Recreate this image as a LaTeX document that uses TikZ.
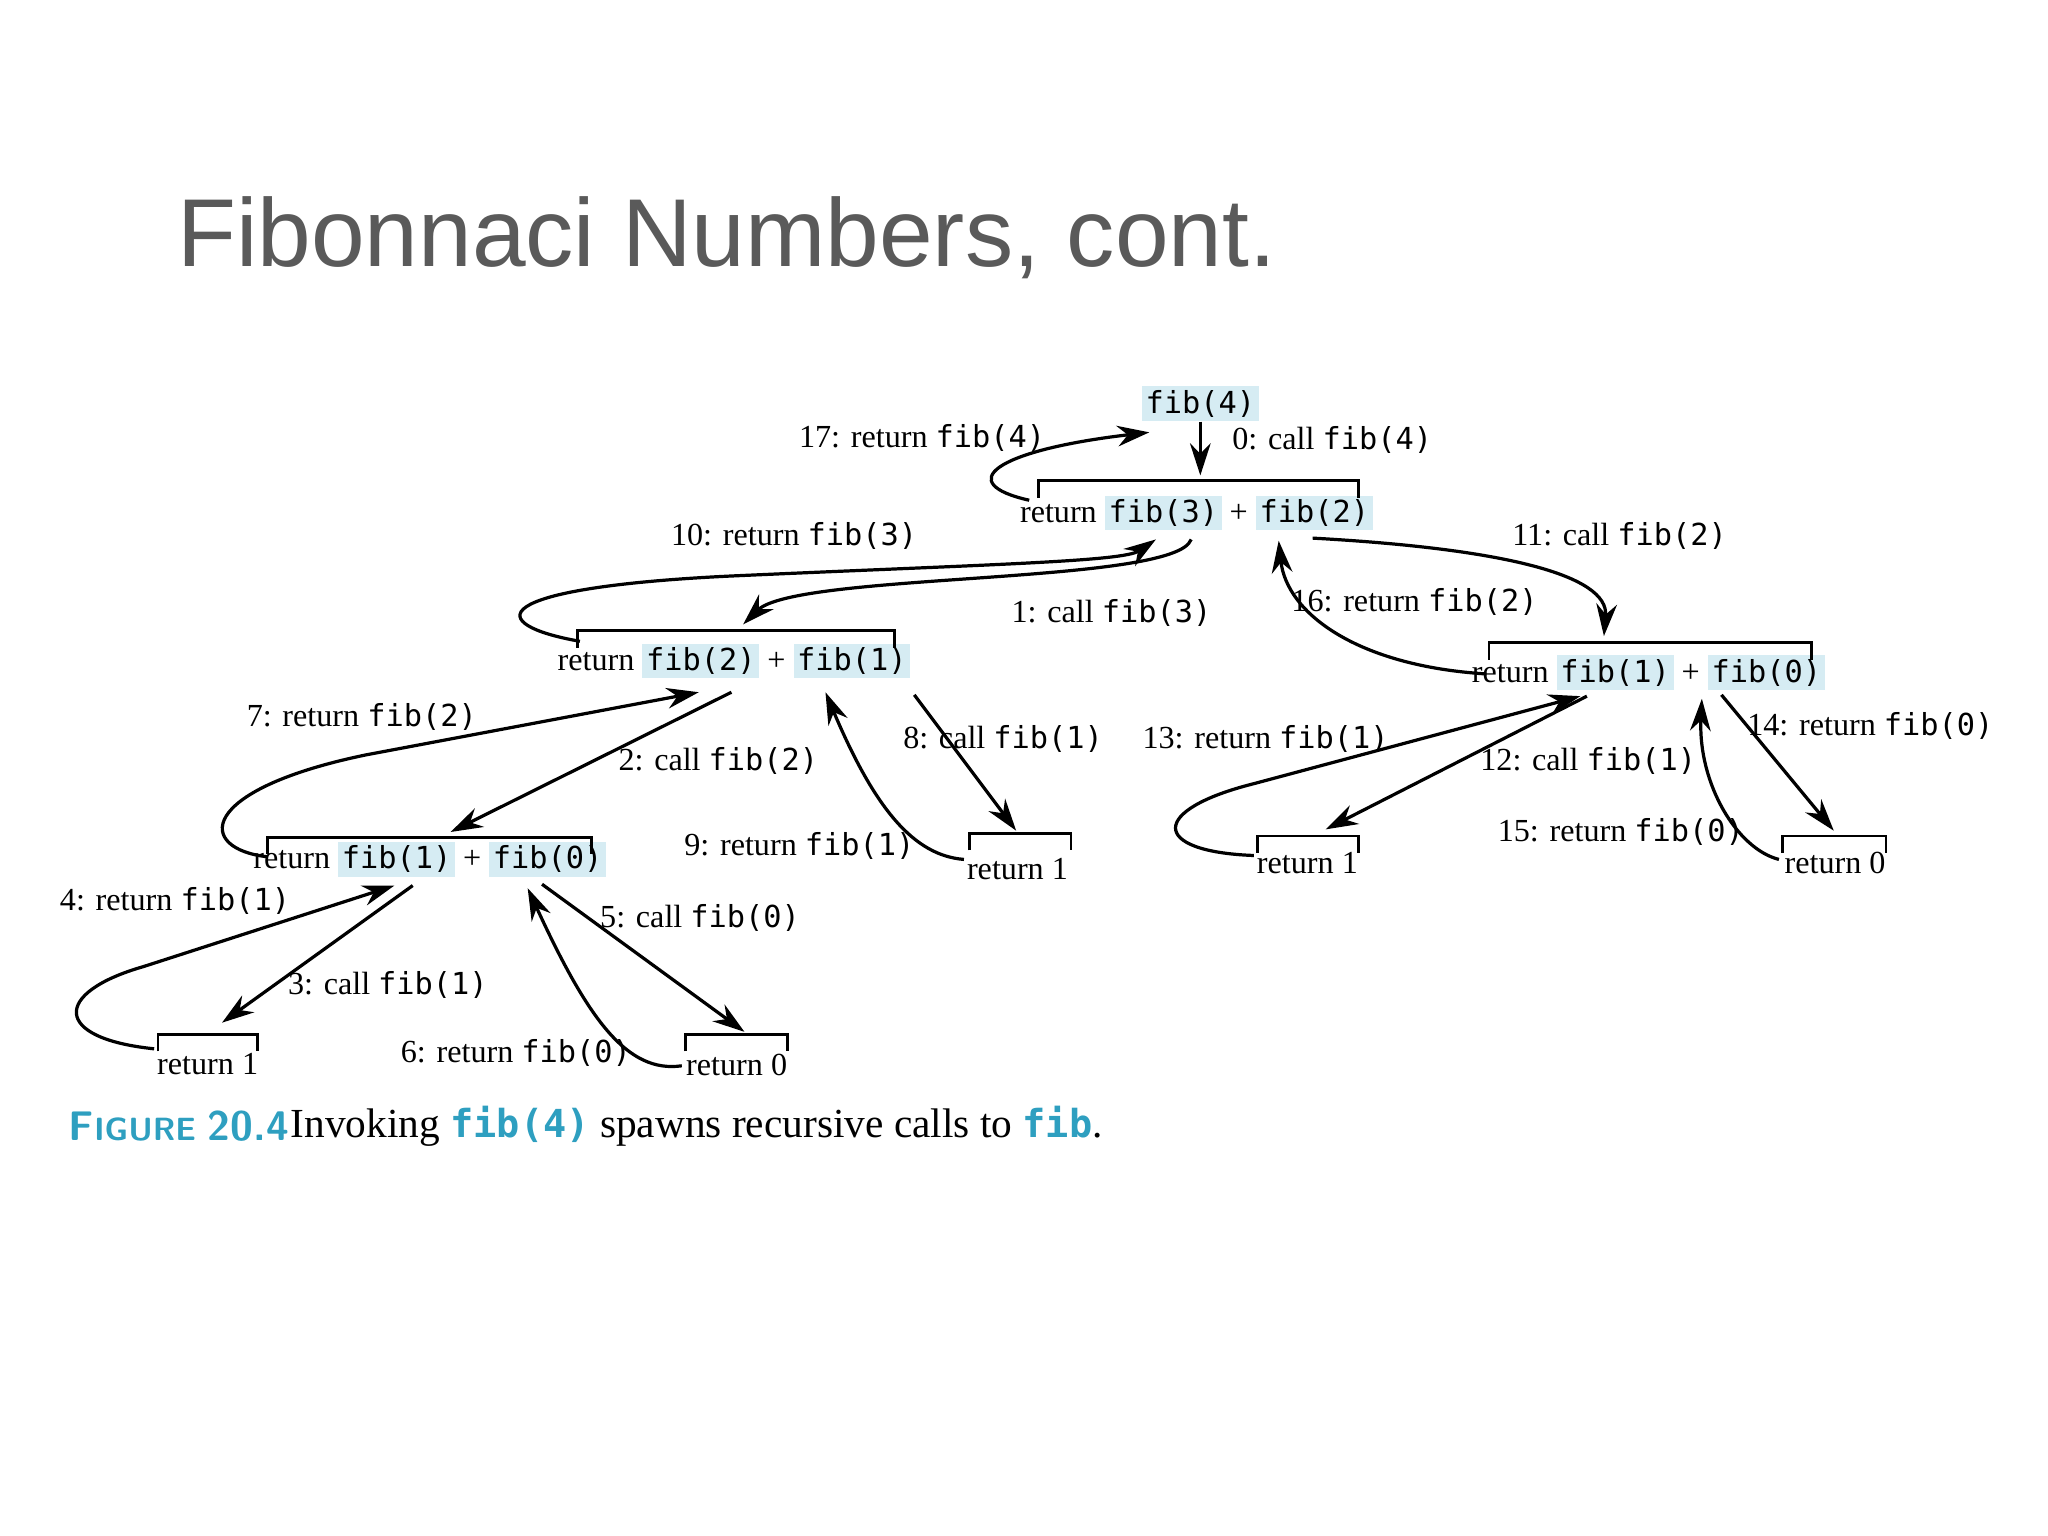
\documentclass[tikz,border=0pt]{standalone}
\usepackage{fontspec}
\setmainfont{Liberation Serif}
\setmonofont{DejaVu Sans Mono}
\newfontfamily\titlefont{Liberation Sans}
\usetikzlibrary{arrows.meta}
\definecolor{hl}{HTML}{D6ECF3}
\definecolor{teal}{HTML}{2E9FC0}
\definecolor{titlegray}{HTML}{5A5A5A}
\newcommand{\fb}[1]{{\setlength{\fboxsep}{0.8pt}\colorbox{hl}{\fontsize{6.6}{8}\ttfamily #1}}}
\newcommand{\fc}[1]{{\fontsize{6.6}{8}\ttfamily #1}}
\tikzset{
  lbl/.style={font=\fontsize{7}{8}\selectfont, inner sep=0pt},
  ret/.style={font=\fontsize{7}{8}\selectfont, inner sep=0pt},
  arr/.style={-{Stealth[length=7pt,width=4.5pt]}, line width=0.7pt},
  brk/.style={line width=0.6pt},
}
\begin{document}
\begin{tikzpicture}[x=0.01cm,y=-0.01cm]
\useasboundingbox (0,0) rectangle (1568,1176);
\fill[white] (0,0) rectangle (1568,1176);
\node[anchor=west, font=\titlefont\fontsize{21}{25}\selectfont, text=titlegray, inner sep=0pt] (title) at (135,182) {Fibonnaci Numbers, cont.};

% nodes
\node[ret] (f4) at (919,309) {\fb{fib(4)}};
\node[ret] (a) at (916,393) {return \fb{fib(3)} + \fb{fib(2)}};
\node[ret] (b) at (562,506) {return \fb{fib(2)} + \fb{fib(1)}};
\node[ret] (c) at (1262,515) {return \fb{fib(1)} + \fb{fib(0)}};
\node[ret] (d) at (329,658) {return \fb{fib(1)} + \fb{fib(0)}};
\node[ret] (e) at (779,665) {return 1};
\node[ret] (f) at (1001,661) {return 1};
\node[ret] (g) at (1405,661) {return 0};
\node[ret] (h) at (159,815) {return 1};
\node[ret] (i) at (564,815) {return 0};

% brackets
\draw[brk] (795,381)--(795,368)--(1040,368)--(1040,381);
\draw[brk] (442,496)--(442,483)--(685,483)--(685,496);
\draw[brk] (1140,505)--(1140,492)--(1387,492)--(1387,505);
\draw[brk] (205,654)--(205,641)--(453,641)--(453,654);
\draw[brk] (742,651)--(742,638)--(820,638)--(820,651);
\draw[brk] (963,653)--(963,640)--(1040,640)--(1040,653);
\draw[brk] (1365,653)--(1365,640)--(1444,640)--(1444,653);
\draw[brk] (121,805)--(121,792)--(197,792)--(197,805);
\draw[brk] (525,805)--(525,792)--(603,792)--(603,805);

% arrows
\draw[arr] (f4.south) -- (919,364);
\draw[arr] (788,383) .. controls (730,370) and (760,345) .. (880,331);
\draw[arr] (912,413) .. controls (900,448) and (610,438) .. (569,478);
\draw[arr] (444,491) .. controls (370,478) and (370,450) .. (560,441) .. controls (760,432) and (860,430) .. (885,413);
\draw[arr] (1005,412) .. controls (1150,420) and (1232,440) .. (1228,487);
\draw[arr] (1138,516) .. controls (1040,510) and (985,470) .. (979,414);
\draw[arr] (560,530) -- (345,637);
\draw[arr] (205,656) .. controls (150,650) and (150,605) .. (280,578) -- (535,530);
\draw[arr] (700,532) -- (778,636);
\draw[arr] (738,658) .. controls (700,655) and (670,620) .. (632,530);
\draw[arr] (118,803) .. controls (40,795) and (40,760) .. (110,740) -- (302,678);
\draw[arr] (316,678) -- (170,783);
\draw[arr] (415,677) -- (570,790);
\draw[arr] (522,816) .. controls (480,822) and (450,780) .. (404,680);
\draw[arr] (960,655) .. controls (880,652) and (880,620) .. (960,600) -- (1210,533);
\draw[arr] (1215,533) -- (1015,635);
\draw[arr] (1318,532) -- (1404,636);
\draw[arr] (1362,658) .. controls (1330,650) and (1300,600) .. (1303,535);

% labels
\node[lbl] (l0) at (1020,337) {0: call \fc{fib(4)}};
\node[lbl] (l17) at (706,335) {17: return \fc{fib(4)}};
\node[lbl] (l1) at (851,469) {1: call \fc{fib(3)}};
\node[lbl] (l10) at (608,410) {10: return \fc{fib(3)}};
\node[lbl] (l11) at (1240,410) {11: call \fc{fib(2)}};
\node[lbl] (l16) at (1083,461) {16: return \fc{fib(2)}};
\node[lbl] (l2) at (550,583) {2: call \fc{fib(2)}};
\node[lbl] (l7) at (277,549) {7: return \fc{fib(2)}};
\node[lbl] (l8) at (768,566) {8: call \fc{fib(1)}};
\node[lbl] (l9) at (612,648) {9: return \fc{fib(1)}};
\node[lbl] (l4) at (134,690) {4: return \fc{fib(1)}};
\node[lbl] (l3) at (297,754) {3: call \fc{fib(1)}};
\node[lbl] (l5) at (536,703) {5: call \fc{fib(0)}};
\node[lbl] (l6) at (395,806) {6: return \fc{fib(0)}};
\node[lbl] (l13) at (969,566) {13: return \fc{fib(1)}};
\node[lbl] (l12) at (1216,583) {12: call \fc{fib(1)}};
\node[lbl] (l14) at (1432,556) {14: return \fc{fib(0)}};
\node[lbl] (l15) at (1241,637) {15: return \fc{fib(0)}};

% caption
\node[anchor=west, inner sep=0pt, text=teal, font=\sffamily\bfseries\fontsize{9}{10}\selectfont] (cap) at (52,862) {F\fontsize{7}{8}\selectfont IGURE \fontsize{9}{10}\selectfont 20.4};
\node[anchor=west, inner sep=0pt, font=\fontsize{9}{10}\selectfont] (capt) at (222,862) {Invoking {\color{teal}\fontsize{8.4}{10}\ttfamily\bfseries fib(4)} spawns recursive calls to {\color{teal}\fontsize{8.4}{10}\ttfamily\bfseries fib}.};
\end{tikzpicture}
\end{document}
